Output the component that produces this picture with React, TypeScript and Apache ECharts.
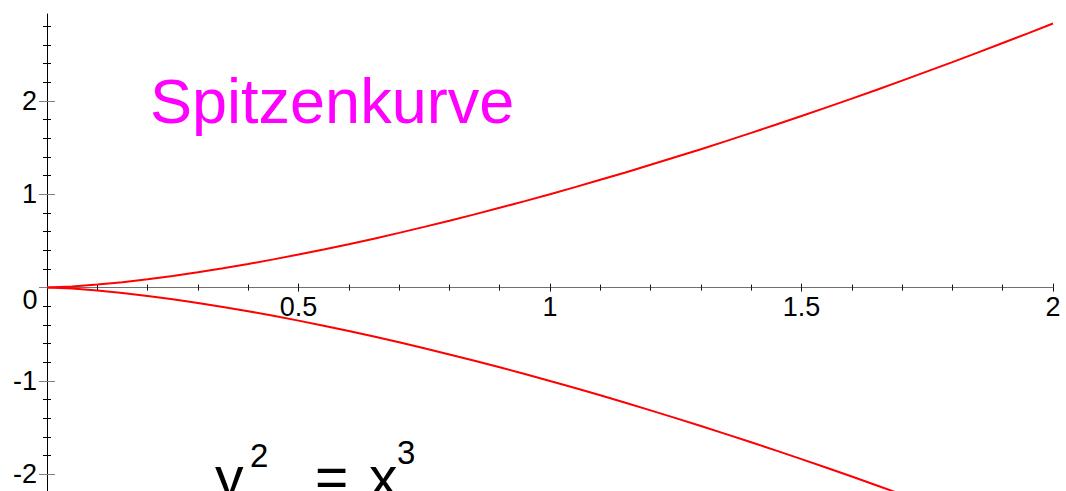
import { useEffect, useRef } from "react";
import * as echarts from "echarts";

// Semicubical parabola y^2 = x^3 – both branches, sampled every 0.05 along x
const xValues = [
  0, 0.05, 0.1, 0.15, 0.2, 0.25, 0.3, 0.35, 0.4, 0.45, 0.5, 0.55, 0.6, 0.65, 0.7, 0.75, 0.8, 0.85, 0.9, 0.95,
  1.0, 1.05, 1.1, 1.15, 1.2, 1.25, 1.3, 1.35, 1.4, 1.45, 1.5, 1.55, 1.6, 1.65, 1.7, 1.75, 1.8, 1.85, 1.9, 1.95, 2.0,
];
const upperY = [
  0, 0.011, 0.032, 0.058, 0.089, 0.125, 0.164, 0.207, 0.253, 0.302, 0.354, 0.408, 0.465, 0.524, 0.586, 0.65, 0.716, 0.784, 0.854, 0.926,
  1.0, 1.076, 1.154, 1.233, 1.315, 1.398, 1.482, 1.569, 1.657, 1.746, 1.837, 1.93, 2.024, 2.119, 2.217, 2.315, 2.415, 2.516, 2.619, 2.723, 2.828,
];
const lowerY = [
  0, -0.011, -0.032, -0.058, -0.089, -0.125, -0.164, -0.207, -0.253, -0.302, -0.354, -0.408, -0.465, -0.524, -0.586, -0.65, -0.716, -0.784, -0.854, -0.926,
  -1.0, -1.076, -1.154, -1.233, -1.315, -1.398, -1.482, -1.569, -1.657, -1.746, -1.837, -1.93, -2.024, -2.119, -2.217, -2.315, -2.415, -2.516, -2.619, -2.723, -2.828,
];

// Axis ticks and labels
const xMinorTicks = [0.1, 0.2, 0.3, 0.4, 0.6, 0.7, 0.8, 0.9, 1.1, 1.2, 1.3, 1.4, 1.6, 1.7, 1.8, 1.9];
const xMajorTicks = [0.5, 1, 1.5, 2];
const xTickLabels = [0.5, 1, 1.5, 2];
const yMinorTicks = [-2.2, -1.8, -1.6, -1.4, -1.2, -0.8, -0.6, -0.4, -0.2, 0.2, 0.4, 0.6, 0.8, 1.2, 1.4, 1.6, 1.8, 2.2, 2.4, 2.6, 2.8];
const yMajorTicks = [-2, -1, 0, 1, 2];
const yTickLabels = [-2, -1, 1, 2];

const X_MIN = 0;
const X_MAX = 2;
const Y_MIN = -2.2;
const Y_MAX = 2.93;

const GRID_LEFT = 47;
const GRID_TOP = 14;
const GRID_WIDTH = 1006;
const GRID_HEIGHT = 479;

// Pixel row of y = 0 inside the plot area; the horizontal axis sits there.
const ZERO_ROW = GRID_TOP + (Y_MAX / (Y_MAX - Y_MIN)) * GRID_HEIGHT;
const X_AXIS_OFFSET = -(GRID_TOP + GRID_HEIGHT - ZERO_ROW);

const FONT = "Liberation Sans, Arial, sans-serif";

function xAxisDef(ticks: number[], inside: boolean, length: number, withLine: boolean) {
  return {
    type: "value",
    min: X_MIN,
    max: X_MAX,
    gridIndex: 0,
    position: "bottom",
    offset: X_AXIS_OFFSET,
    splitLine: { show: false },
    axisLine: {
      show: withLine,
      onZero: false,
      lineStyle: { color: "#707070", width: 1 },
    },
    axisTick: {
      show: true,
      inside,
      length,
      customValues: ticks,
      lineStyle: { color: "#111", width: 1 },
    },
    axisLabel: withLine
      ? { show: true, customValues: xTickLabels, fontSize: 27, fontFamily: FONT, color: "#000", margin: 6, hideOverlap: false }
      : { show: false },
  };
}

function yAxisDef(ticks: number[], inside: boolean, length: number, color: string, withLine: boolean) {
  return {
    type: "value",
    min: Y_MIN,
    max: Y_MAX,
    gridIndex: 0,
    position: "left",
    offset: 0,
    splitLine: { show: false },
    axisLine: {
      show: withLine,
      onZero: false,
      lineStyle: { color: "#000", width: 1 },
    },
    axisTick: {
      show: true,
      inside,
      length,
      customValues: ticks,
      lineStyle: { color, width: 1 },
    },
    axisLabel: withLine
      ? { show: true, customValues: yTickLabels, fontSize: 27, fontFamily: FONT, color: "#000", margin: 10 }
      : { show: false },
  };
}

const textStyle = (text: string, fontSize: number, fill: string, align: string) => ({
  text,
  fontSize,
  fontFamily: FONT,
  fill,
  align,
  verticalAlign: "middle",
  textAlign: align,
  textVerticalAlign: "middle",
});

export default function App() {
  const ref = useRef<HTMLDivElement>(null);

  useEffect(() => {
    if (!ref.current) return;
    const chart = echarts.init(ref.current, undefined, { renderer: "svg" });

    const upper = xValues.map((x, i) => [x, upperY[i]]);
    const lower = xValues.map((x, i) => [x, lowerY[i]]);

    const curve = (data: number[][]) => ({
      type: "line",
      data,
      xAxisIndex: 0,
      yAxisIndex: 0,
      smooth: false,
      showSymbol: false,
      clip: true,
      lineStyle: { color: "#ff0000", width: 2 },
    });

    chart.setOption({
      animation: false,
      backgroundColor: "#ffffff",
      grid: {
        left: GRID_LEFT,
        top: GRID_TOP,
        width: GRID_WIDTH,
        height: GRID_HEIGHT,
        containLabel: false,
        outerBoundsMode: "none",
      },
      xAxis: [
        xAxisDef(xMinorTicks, false, 3, true),
        xAxisDef(xMinorTicks, true, 3, false),
        xAxisDef(xMajorTicks, false, 4, false),
        xAxisDef(xMajorTicks, true, 4, false),
      ],
      yAxis: [
        yAxisDef(yMinorTicks, false, 4, "#000", true),
        yAxisDef(yMinorTicks, true, 4, "#000", false),
        yAxisDef(yMajorTicks, false, 8, "#808080", false),
        yAxisDef(yMajorTicks, true, 8, "#808080", false),
      ],
      series: [curve(upper), curve(lower)],
      graphic: [
        { type: "text", x: 30, y: 300, style: textStyle("0", 27, "#000", "center") },
        { type: "text", x: 150, y: 101, style: textStyle("Spitzenkurve", 63, "#ff00ff", "left") },
        {
          type: "group",
          children: [
            { type: "text", x: 215, y: 477, style: textStyle("y", 57, "#000", "left") },
            { type: "text", x: 250, y: 455, style: textStyle("2", 33, "#000", "left") },
            { type: "text", x: 315, y: 477, style: textStyle("=", 57, "#000", "left") },
            { type: "text", x: 369, y: 477, style: textStyle("x", 57, "#000", "left") },
            { type: "text", x: 397, y: 452, style: textStyle("3", 33, "#000", "left") },
          ],
        },
      ],
    });

    return () => chart.dispose();
  }, []);

  return (
    <div
      ref={ref}
      style={{ position: "fixed", left: 0, top: 0, width: 1066, height: 491, background: "#fff" }}
    />
  );
}
